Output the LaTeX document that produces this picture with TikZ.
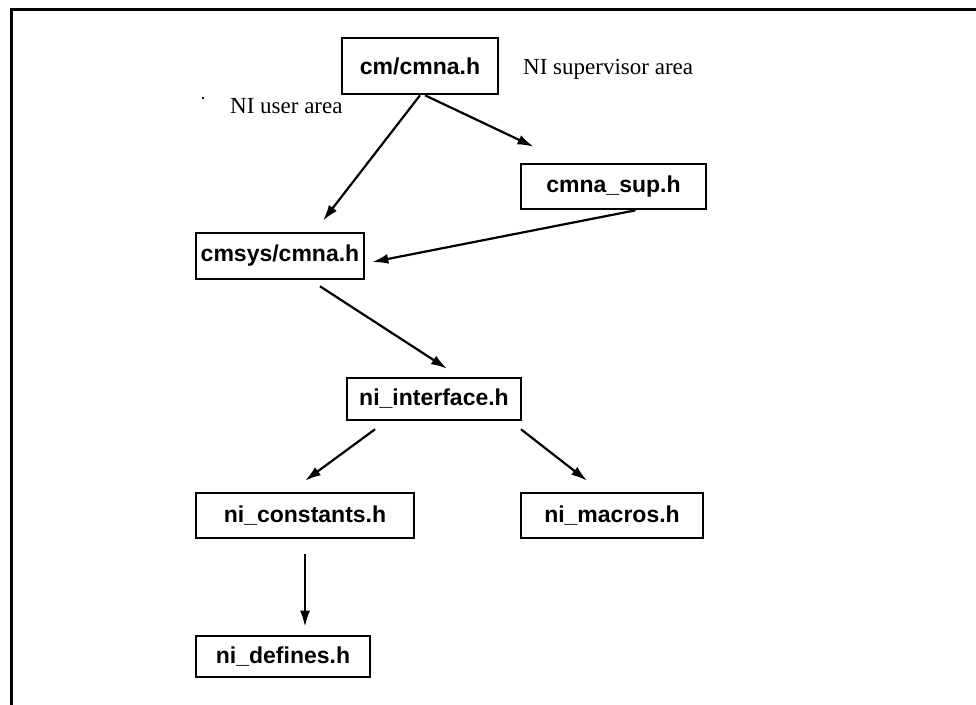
\documentclass[tikz,border=0pt]{standalone}
\usepackage{fontspec}
\setmainfont{Liberation Serif}
\newfontfamily\boxfont{Liberation Sans}
\usetikzlibrary{arrows.meta}
\tikzset{
  filebox/.style={draw, line width=2.6pt, inner sep=0pt, minimum height=45pt,
    font=\boxfont\bfseries\fontsize{23}{25}\selectfont},
  link/.style={line width=2.2pt, -{Latex[length=16pt,width=10pt]}},
  area/.style={font=\fontsize{23}{25}\selectfont, inner sep=0pt, anchor=west},
}
\begin{document}
\begin{tikzpicture}[x=1pt,y=-1pt]
\useasboundingbox (0,0) rectangle (976,704);
% page frame, only top and left edges fall inside the sheet
\draw[line width=3pt] (11,710) -- (11,9) -- (990,9);

\node[filebox, minimum width=156pt, minimum height=56pt] (top) at (420,66) {cm/cmna.h};
\node[filebox, minimum width=185pt] (sup) at (613.5,186.5) {cmna\_sup.h};
\node[filebox, minimum width=168pt, minimum height=46pt] (sys) at (280,256) {cmsys/cmna.h};
\node[filebox, minimum width=174pt, minimum height=42pt] (ifc) at (434,399) {ni\_interface.h};
\node[filebox, minimum width=218pt] (const) at (305,515.5) {ni\_constants.h};
\node[filebox, minimum width=182pt] (mac) at (612,515.5) {ni\_macros.h};
\node[filebox, minimum width=174pt, minimum height=41pt] (def) at (283,656.5) {ni\_defines.h};

\node[area] (lsup) at (523,69) {NI supervisor area};
\node[area] (luser) at (230,106) {NI user area};
\fill (203,98) circle (1.3pt);

\draw[link] (top.south) -- ([xshift=43pt,yshift=11pt]sys.north);
\draw[link] ([xshift=5pt]top.south) -- ([xshift=-80pt,yshift=16pt]sup.north);
\draw[link] ([xshift=22pt]sup.south) -- ([xshift=7pt,yshift=-6pt]sys.east);
\draw[link] ([xshift=40pt,yshift=-6pt]sys.south) -- ([xshift=13pt,yshift=8pt]ifc.north);
\draw[link] ([xshift=-59pt,yshift=-8pt]ifc.south) -- ([yshift=11pt]const.north);
\draw[link] ([xshift=87pt,yshift=-8pt]ifc.south) -- ([xshift=-25pt,yshift=11pt]mac.north);
\draw[link] ([yshift=-15pt]const.south) -- ([xshift=22pt,yshift=8pt]def.north);
\end{tikzpicture}
\end{document}
